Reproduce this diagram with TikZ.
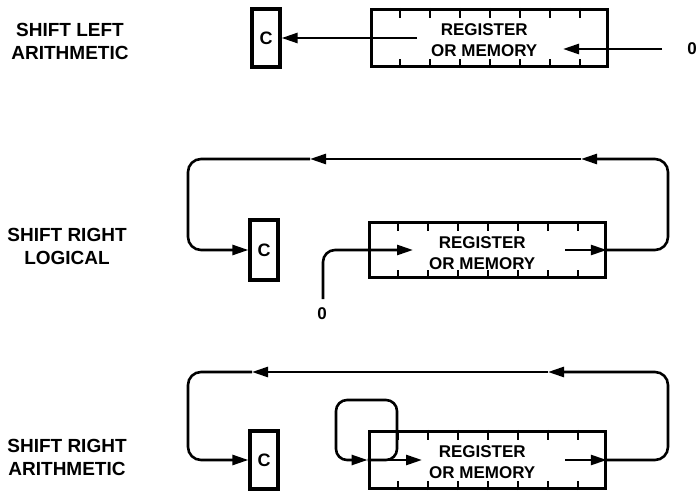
\documentclass[tikz,border=0pt]{standalone}
\usepackage{fontspec}
\setmainfont{Liberation Sans}
\usetikzlibrary{arrows.meta, positioning}

\begin{document}
\begin{tikzpicture}[
  x=1pt, y=-1pt,
  node distance=88pt,
  cbox/.style={rectangle, draw, line width=3.2pt, minimum width=28pt, minimum height=58pt, inner sep=0pt, font=\fontsize{18}{20}\selectfont\bfseries},
  regbox/.style={rectangle, draw, line width=3.2pt, minimum width=236pt, minimum height=57pt, inner sep=0pt},
  regtext/.style={align=center, inner sep=0pt, font=\fontsize{17}{20.5}\selectfont\bfseries},
  bittext/.style={inner sep=0pt, font=\fontsize{17}{20}\selectfont\bfseries},
  shiftlabel/.style={align=center, inner sep=0pt, font=\fontsize{19}{23}\selectfont\bfseries},
  conn/.style={line width=2.6pt},
  tick/.style={line width=2pt},
  >={Triangle[length=16pt, width=10pt]},
]
  \useasboundingbox (0,0) rectangle (697,492);

  % shift left arithmetic
  \node[shiftlabel] (sla) at (70,41) {SHIFT LEFT\\ARITHMETIC};
  \node[cbox] (c1) at (266,38) {C};
  \node[regbox, right=of c1] (reg1) {};
  \node[regtext] (reg1txt) at ([xshift=-5pt, yshift=-2pt]reg1.center) {REGISTER\\OR MEMORY};
  \node[bittext] (zero1) at (692,49) {0};
  \coordinate (msb1) at (417,38);
  \coordinate (fill1) at (662,49);
  \coordinate (lsb1) at (563,49);
  \draw[conn,->] (msb1) -- (c1.east);
  \draw[conn,->] (fill1) -- (lsb1);

  % shift right logical
  \node[shiftlabel] (srl) at (67,246) {SHIFT RIGHT\\LOGICAL};
  \node[cbox, minimum height=60pt] (c2) at (264,250) {C};
  \node[regbox, right=of c2, minimum height=55pt] (reg2) {};
  \node[regtext] (reg2txt) at ([xshift=-5pt, yshift=-3pt]reg2.center) {REGISTER\\OR MEMORY};
  \node[bittext] (zero2) at (322,314) {0};
  \coordinate (fill2) at (323,299);
  \coordinate (msb2) at (413,250);
  \coordinate (lsb2) at (565,250);
  \coordinate (ne2) at (668,159);
  \coordinate (nw2) at (188,159);
  \coordinate (top2a) at (581,159);
  \coordinate (top2b) at (310,159);
  \draw[conn,->,rounded corners=12pt] (fill2) |- (msb2);
  \draw[conn,->] (lsb2) -- (reg2.east);
  \draw[conn,->,rounded corners=13pt] (reg2.east) -| (ne2) -- (top2a);
  \draw[conn,->] (top2a) -- (top2b);
  \draw[conn,->,rounded corners=13pt] (top2b) -- (nw2) |- (c2.west);

  % shift right arithmetic
  \node[shiftlabel] (sra) at (67,457) {SHIFT RIGHT\\ARITHMETIC};
  \node[cbox] (c3) at (264,460) {C};
  \node[regbox, right=of c3] (reg3) {};
  \node[regtext] (reg3txt) at ([xshift=-5pt, yshift=-2pt]reg3.center) {REGISTER\\OR MEMORY};
  \coordinate (keep3) at (397,400);
  \coordinate (back3) at (336,400);
  \coordinate (msb3) at (422,460);
  \coordinate (lsb3) at (565,460);
  \coordinate (ne3) at (668,372);
  \coordinate (nw3) at (188,372);
  \coordinate (top3a) at (548,372);
  \coordinate (top3b) at (252,372);
  \draw[conn,->,rounded corners=11pt] (reg3.west) -| (keep3) -- (back3) |- (reg3.west);
  \draw[conn,->] (reg3.west) -- (msb3);
  \draw[conn,->] (lsb3) -- (reg3.east);
  \draw[conn,->,rounded corners=13pt] (reg3.east) -| (ne3) -- (top3a);
  \draw[conn,->] (top3a) -- (top3b);
  \draw[conn,->,rounded corners=13pt] (top3b) -- (nw3) |- (c3.west);

  % bit cell ticks
  \foreach \r in {reg1,reg2,reg3} {
    \foreach \k in {1,...,7} {
      \draw[tick] (\r.north west) ++(30*\k,0) -- ++(0,10);
      \draw[tick] (\r.south west) ++(30*\k,0) -- ++(0,-9);
    }
  }
\end{tikzpicture}
\end{document}
